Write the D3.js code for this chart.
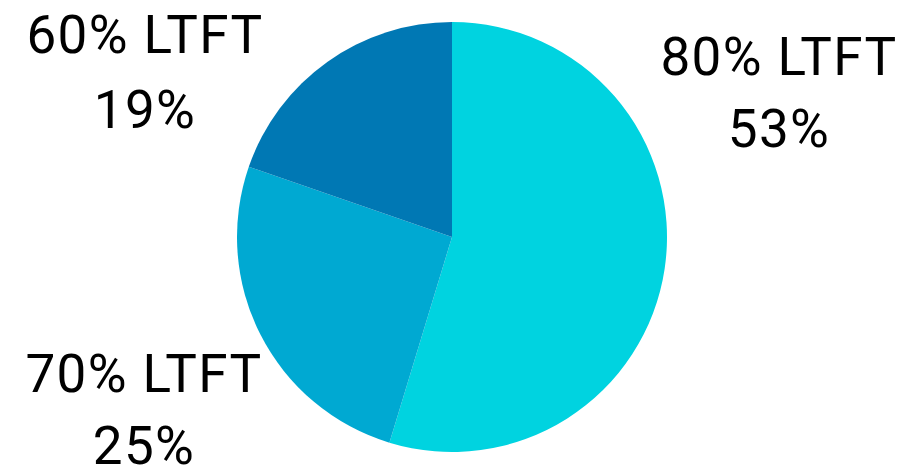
<!DOCTYPE html>
<html><head><meta charset="utf-8">
<script src="https://cdn.jsdelivr.net/npm/d3@7"></script>
<style>body{margin:0;background:#fff}svg{display:block}</style>
</head><body>
<script>
const categories = ["80% LTFT", "70% LTFT", "60% LTFT"];
const values = [54.7, 25.6, 19.7];
const valueLabels = ["53%", "25%", "19%"];
const colors = ["#00d3e0", "#00a9d2", "#0078b4"];

const W = 910, H = 470;
const svg = d3.select("body").append("svg").attr("width", W).attr("height", H);
const cx = 452, cy = 237, r = 215;
const pie = d3.pie().sort(null).value(d => d)(values);
const arc = d3.arc().innerRadius(0).outerRadius(r);
const g = svg.append("g").attr("transform", `translate(${cx},${cy})`);
g.selectAll("path").data(pie).join("path").attr("d", arc).attr("fill", (d, i) => colors[i]);

const labelPos = [[779, 75, 147], [144, 392, 464], [145, 53, 128]];
const font = "Roboto, 'Open Sans', sans-serif";
categories.forEach((c, i) => {
  const [x, y1, y2] = labelPos[i];
  svg.append("text").attr("x", x).attr("y", y1).attr("text-anchor", "middle")
    .attr("font-family", font).attr("font-size", 53).attr("letter-spacing", 1.4).attr("fill", "#000").text(c);
  svg.append("text").attr("x", x).attr("y", y2).attr("text-anchor", "middle")
    .attr("font-family", font).attr("font-size", 53).attr("letter-spacing", 1.4).attr("fill", "#000").text(valueLabels[i]);
});
</script>
</body></html>
